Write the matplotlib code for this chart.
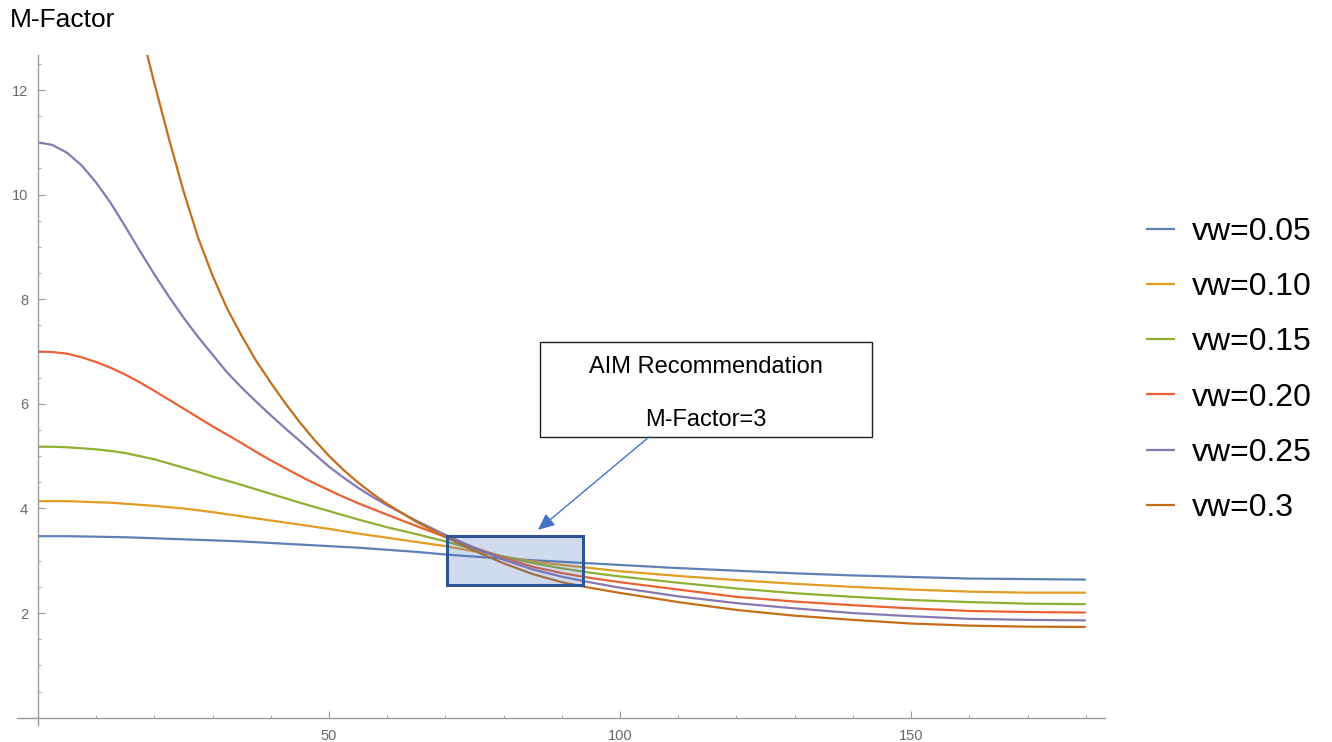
import matplotlib.pyplot as plt
from matplotlib.patches import Rectangle
from matplotlib.ticker import MultipleLocator

plt.rcParams['font.family'] = ['Liberation Sans', 'DejaVu Sans']

# angle (deg) and M-Factor for each vw
angle = [0, 2.5, 5, 7.5, 10, 12.5, 15, 17.5, 20, 22.5, 25, 27.5, 30, 32.5, 35, 37.5, 40, 42.5,
         45, 47.5, 50, 52.5, 55, 57.5, 60, 65, 70, 75, 80, 85, 90, 95, 100,
         110, 120, 130, 140, 150, 160, 170, 180]
m_005 = [3.47, 3.47, 3.47, 3.465, 3.46, 3.455, 3.45, 3.44, 3.43, 3.42, 3.41, 3.40, 3.39, 3.38,
         3.37, 3.355, 3.34, 3.325, 3.31, 3.295, 3.28, 3.265, 3.25, 3.23, 3.21, 3.17, 3.12, 3.08,
         3.04, 3.01, 2.98, 2.95, 2.92, 2.86, 2.81, 2.76, 2.72, 2.69, 2.66, 2.65, 2.64]
m_010 = [4.14, 4.14, 4.14, 4.13, 4.12, 4.11, 4.09, 4.07, 4.05, 4.025, 4.00, 3.965, 3.93, 3.89,
         3.85, 3.81, 3.77, 3.73, 3.69, 3.65, 3.61, 3.565, 3.52, 3.48, 3.44, 3.36, 3.28, 3.18,
         3.08, 2.99, 2.92, 2.86, 2.80, 2.71, 2.63, 2.56, 2.50, 2.45, 2.41, 2.39, 2.39]
m_015 = [5.18, 5.18, 5.17, 5.15, 5.13, 5.10, 5.06, 5.00, 4.94, 4.86, 4.78, 4.70, 4.61, 4.53,
         4.45, 4.365, 4.28, 4.195, 4.11, 4.03, 3.95, 3.87, 3.79, 3.715, 3.64, 3.51, 3.37, 3.22,
         3.08, 2.955, 2.855, 2.77, 2.70, 2.58, 2.47, 2.38, 2.31, 2.25, 2.21, 2.18, 2.17]
m_020 = [7.00, 6.99, 6.96, 6.89, 6.80, 6.69, 6.56, 6.41, 6.25, 6.08, 5.91, 5.74, 5.57, 5.41,
         5.25, 5.08, 4.92, 4.77, 4.62, 4.48, 4.35, 4.22, 4.10, 3.99, 3.88, 3.665, 3.455, 3.25,
         3.055, 2.885, 2.765, 2.67, 2.59, 2.45, 2.31, 2.22, 2.15, 2.09, 2.04, 2.02, 2.01]
m_025 = [11.00, 10.95, 10.80, 10.56, 10.23, 9.84, 9.39, 8.925, 8.475, 8.05, 7.65, 7.28, 6.94,
         6.60, 6.31, 6.04, 5.78, 5.53, 5.29, 5.04, 4.80, 4.59, 4.395, 4.22, 4.06, 3.765, 3.495,
         3.245, 3.02, 2.835, 2.695, 2.585, 2.485, 2.32, 2.19, 2.09, 2.00, 1.94, 1.89, 1.87, 1.86]
# vw=0.3 runs off the top of the plot below 15 deg
angle_030 = angle[6:]
m_030 = [14.36, 13.23, 12.13, 11.07, 10.07, 9.18, 8.45, 7.82, 7.30, 6.82, 6.405, 6.01, 5.645,
         5.31, 5.005, 4.735, 4.495, 4.28, 4.085, 3.745, 3.455, 3.19, 2.95, 2.745, 2.59, 2.48,
         2.385, 2.21, 2.06, 1.95, 1.87, 1.80, 1.76, 1.74, 1.735]

labels = ['vw=0.05', 'vw=0.10', 'vw=0.15', 'vw=0.20', 'vw=0.25', 'vw=0.3']
colors = ['#5E81B5', '#E19C24', '#8FB032', '#EB6235', '#8778B3', '#C56E1A']

fig = plt.figure(figsize=(13.32, 7.42), dpi=100)
ax = fig.add_axes([0.01276, 0.0229, 0.8168, 0.903])

series = [(angle, m_005), (angle, m_010), (angle, m_015),
          (angle, m_020), (angle, m_025), (angle_030, m_030)]
for (x, y), lab, c in zip(series, labels, colors):
    ax.plot(x, y, color=c, lw=1.6, label=lab, solid_capstyle='butt', solid_joinstyle='round')

ax.set_xlim(-3.6, 183.3)
ax.set_ylim(-0.14, 12.67)

# axes cross at the origin, no frame
for side in ['top', 'right']:
    ax.spines[side].set_visible(False)
ax.spines['left'].set_position(('data', 0))
ax.spines['bottom'].set_position(('data', 0))
for side in ['left', 'bottom']:
    ax.spines[side].set_color('#9a9a9a')
    ax.spines[side].set_linewidth(1.0)

ax.set_xticks([50, 100, 150])
ax.set_yticks([2, 4, 6, 8, 10, 12])
ax.xaxis.set_minor_locator(MultipleLocator(10))
ax.yaxis.set_minor_locator(MultipleLocator(0.5))
ax.tick_params(which='major', direction='in', length=5, width=0.8, color='#9a9a9a',
               labelsize=10.5, labelcolor='#6a6a6a')
ax.tick_params(which='minor', direction='in', length=2.5, width=0.6, color='#9a9a9a')
ax.tick_params(axis='x', pad=8)
ax.tick_params(axis='y', pad=7)

fig.text(10 / 1332, 1 - 20 / 742, 'M-Factor', fontsize=19, va='center', ha='left')

# shaded region where the curves converge
ax.add_patch(Rectangle((70.3, 2.54), 23.3, 0.93, facecolor=(0.27, 0.45, 0.77, 0.25),
                       edgecolor='#2F5597', lw=2.2, zorder=5))

# callout
ax.add_patch(Rectangle((86.25, 5.37), 57.05, 1.81, facecolor='white', edgecolor='#222222',
                       lw=1.0, zorder=6))
ax.text(114.8, 6.70, 'AIM Recommendation', fontsize=17, ha='center', va='center', zorder=7)
ax.text(114.8, 5.69, 'M-Factor=3', fontsize=17, ha='center', va='center', zorder=7)
ax.annotate('', xy=(85.9, 3.59), xytext=(105.0, 5.37),
            arrowprops=dict(arrowstyle='-|>,head_length=1.0,head_width=0.45',
                            color='#4472C4', lw=1.0, shrinkA=0, shrinkB=0), zorder=7)

fig.legend(loc='center left', bbox_to_anchor=(1117 / 1332, 1 - 370 / 742), frameon=False,
           fontsize=23, handlelength=0.9, handletextpad=0.56, labelspacing=0.79)

fig.savefig('out.png', dpi=100)
